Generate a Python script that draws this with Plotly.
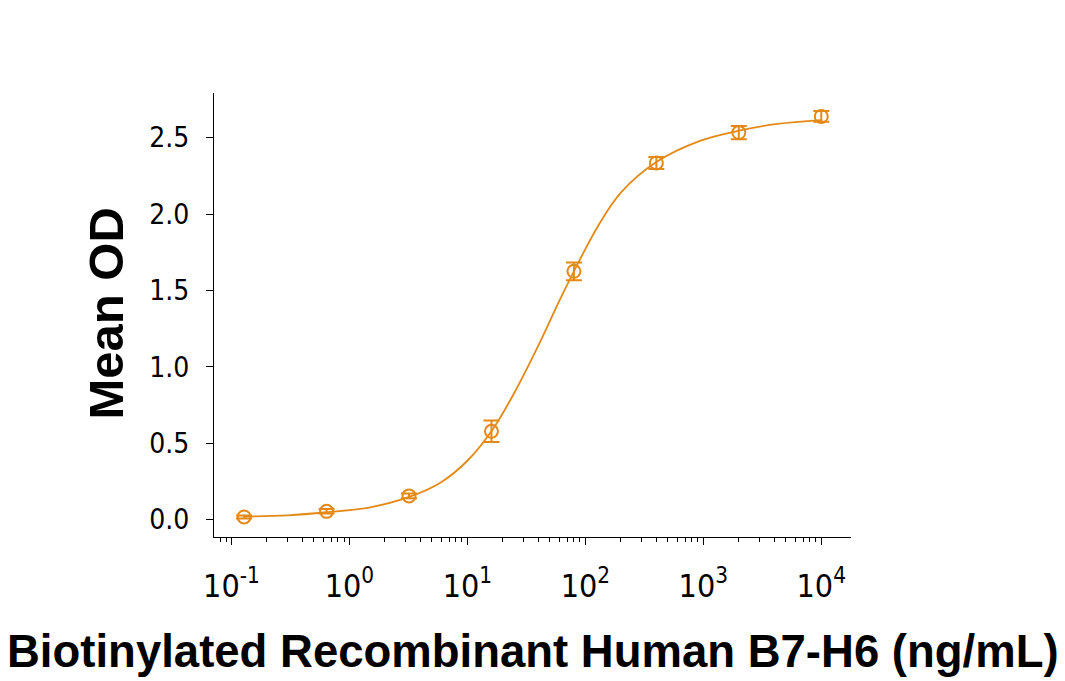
import plotly.graph_objects as go

# Data
conc = [0.128, 0.64, 3.2, 16, 80, 400, 2000, 10000]
mean_od = [0.017, 0.054, 0.155, 0.578, 1.625, 2.334, 2.533, 2.639]
od_err = [0.01, 0.015, 0.015, 0.071, 0.058, 0.039, 0.043, 0.035]

# Fitted curve, points
fit_x = [0.128, 0.3, 0.64, 1.5, 3.2, 6, 10, 16, 25, 40, 60, 80, 130, 200, 400, 950, 2000, 4250, 10000]
fit_y = [0.02, 0.028, 0.048, 0.08, 0.148, 0.245, 0.385, 0.578, 0.83, 1.14, 1.43, 1.625, 1.93, 2.14, 2.34, 2.48, 2.545, 2.59, 2.615]

x_tickvals = [0.1, 1, 10, 100, 1000, 10000]
x_ticktext = ["10<sup>-1</sup>", "10<sup>0</sup>", "10<sup>1</sup>", "10<sup>2</sup>", "10<sup>3</sup>", "10<sup>4</sup>"]
x_minor = [m * 10 ** e for e in range(-2, 5) for m in range(2, 10)]
y_tickvals = [0.0, 0.5, 1.0, 1.5, 2.0, 2.5]

x_title = "Biotinylated Recombinant Human B7-H6 (ng/mL)"
y_title = "Mean OD"

orange = "rgb(229,137,22)"
narrow = "DejaVu Sans Condensed, Liberation Sans Narrow, Arial Narrow, sans-serif"
bold = "Liberation Sans, Arial, sans-serif"

fig = go.Figure()
fig.add_trace(go.Scatter(
    x=fit_x, y=fit_y, mode="lines",
    line=dict(color=orange, width=1.8, shape="spline", smoothing=1.0),
    hoverinfo="skip", showlegend=False,
))
fig.add_trace(go.Scatter(
    x=conc, y=mean_od, mode="markers",
    marker=dict(symbol="circle-open", size=13, color=orange, line=dict(width=2, color=orange)),
    error_y=dict(type="data", array=od_err, visible=True, color=orange, thickness=2, width=8),
    showlegend=False,
))

# page body has an 8px margin, so the figure is 8px smaller and margins shifted
fig.update_layout(
    width=1057, height=673,
    margin=dict(l=206, r=214, t=85, b=144),
    paper_bgcolor="white", plot_bgcolor="white",
    xaxis=dict(
        type="log", range=[-1.148, 4.252],
        tickvals=x_tickvals, ticktext=x_ticktext,
        ticks="outside", ticklen=7, tickwidth=1.2, tickcolor="black",
        showline=True, linecolor="black", linewidth=1.2,
        showgrid=False, zeroline=False,
        tickfont=dict(family=narrow, size=32, color="black"),
        ticklabelstandoff=13,
        minor=dict(tickvals=x_minor, ticks="outside", ticklen=4, tickwidth=1.1, tickcolor="black", showgrid=False),
    ),
    yaxis=dict(
        range=[-0.114, 2.792],
        tickvals=y_tickvals, tickformat=".1f",
        ticks="outside", ticklen=7, tickwidth=1.2, tickcolor="black",
        showline=True, linecolor="black", linewidth=1.2,
        showgrid=False, zeroline=False,
        tickfont=dict(family=narrow, size=28, color="black"),
        ticklabelstandoff=11,
    ),
    annotations=[
        dict(text="<b>" + x_title + "</b>", xref="paper", yref="paper", x=0.5, y=-0.259,
             xanchor="center", yanchor="middle", showarrow=False,
             font=dict(family=bold, size=45.5, color="black")),
        dict(text="<b>" + y_title + "</b>", xref="paper", yref="paper", x=-0.169, y=0.504,
             xanchor="center", yanchor="middle", textangle=-90, showarrow=False,
             font=dict(family=bold, size=49, color="black")),
    ],
)

fig.write_html("out.html")
